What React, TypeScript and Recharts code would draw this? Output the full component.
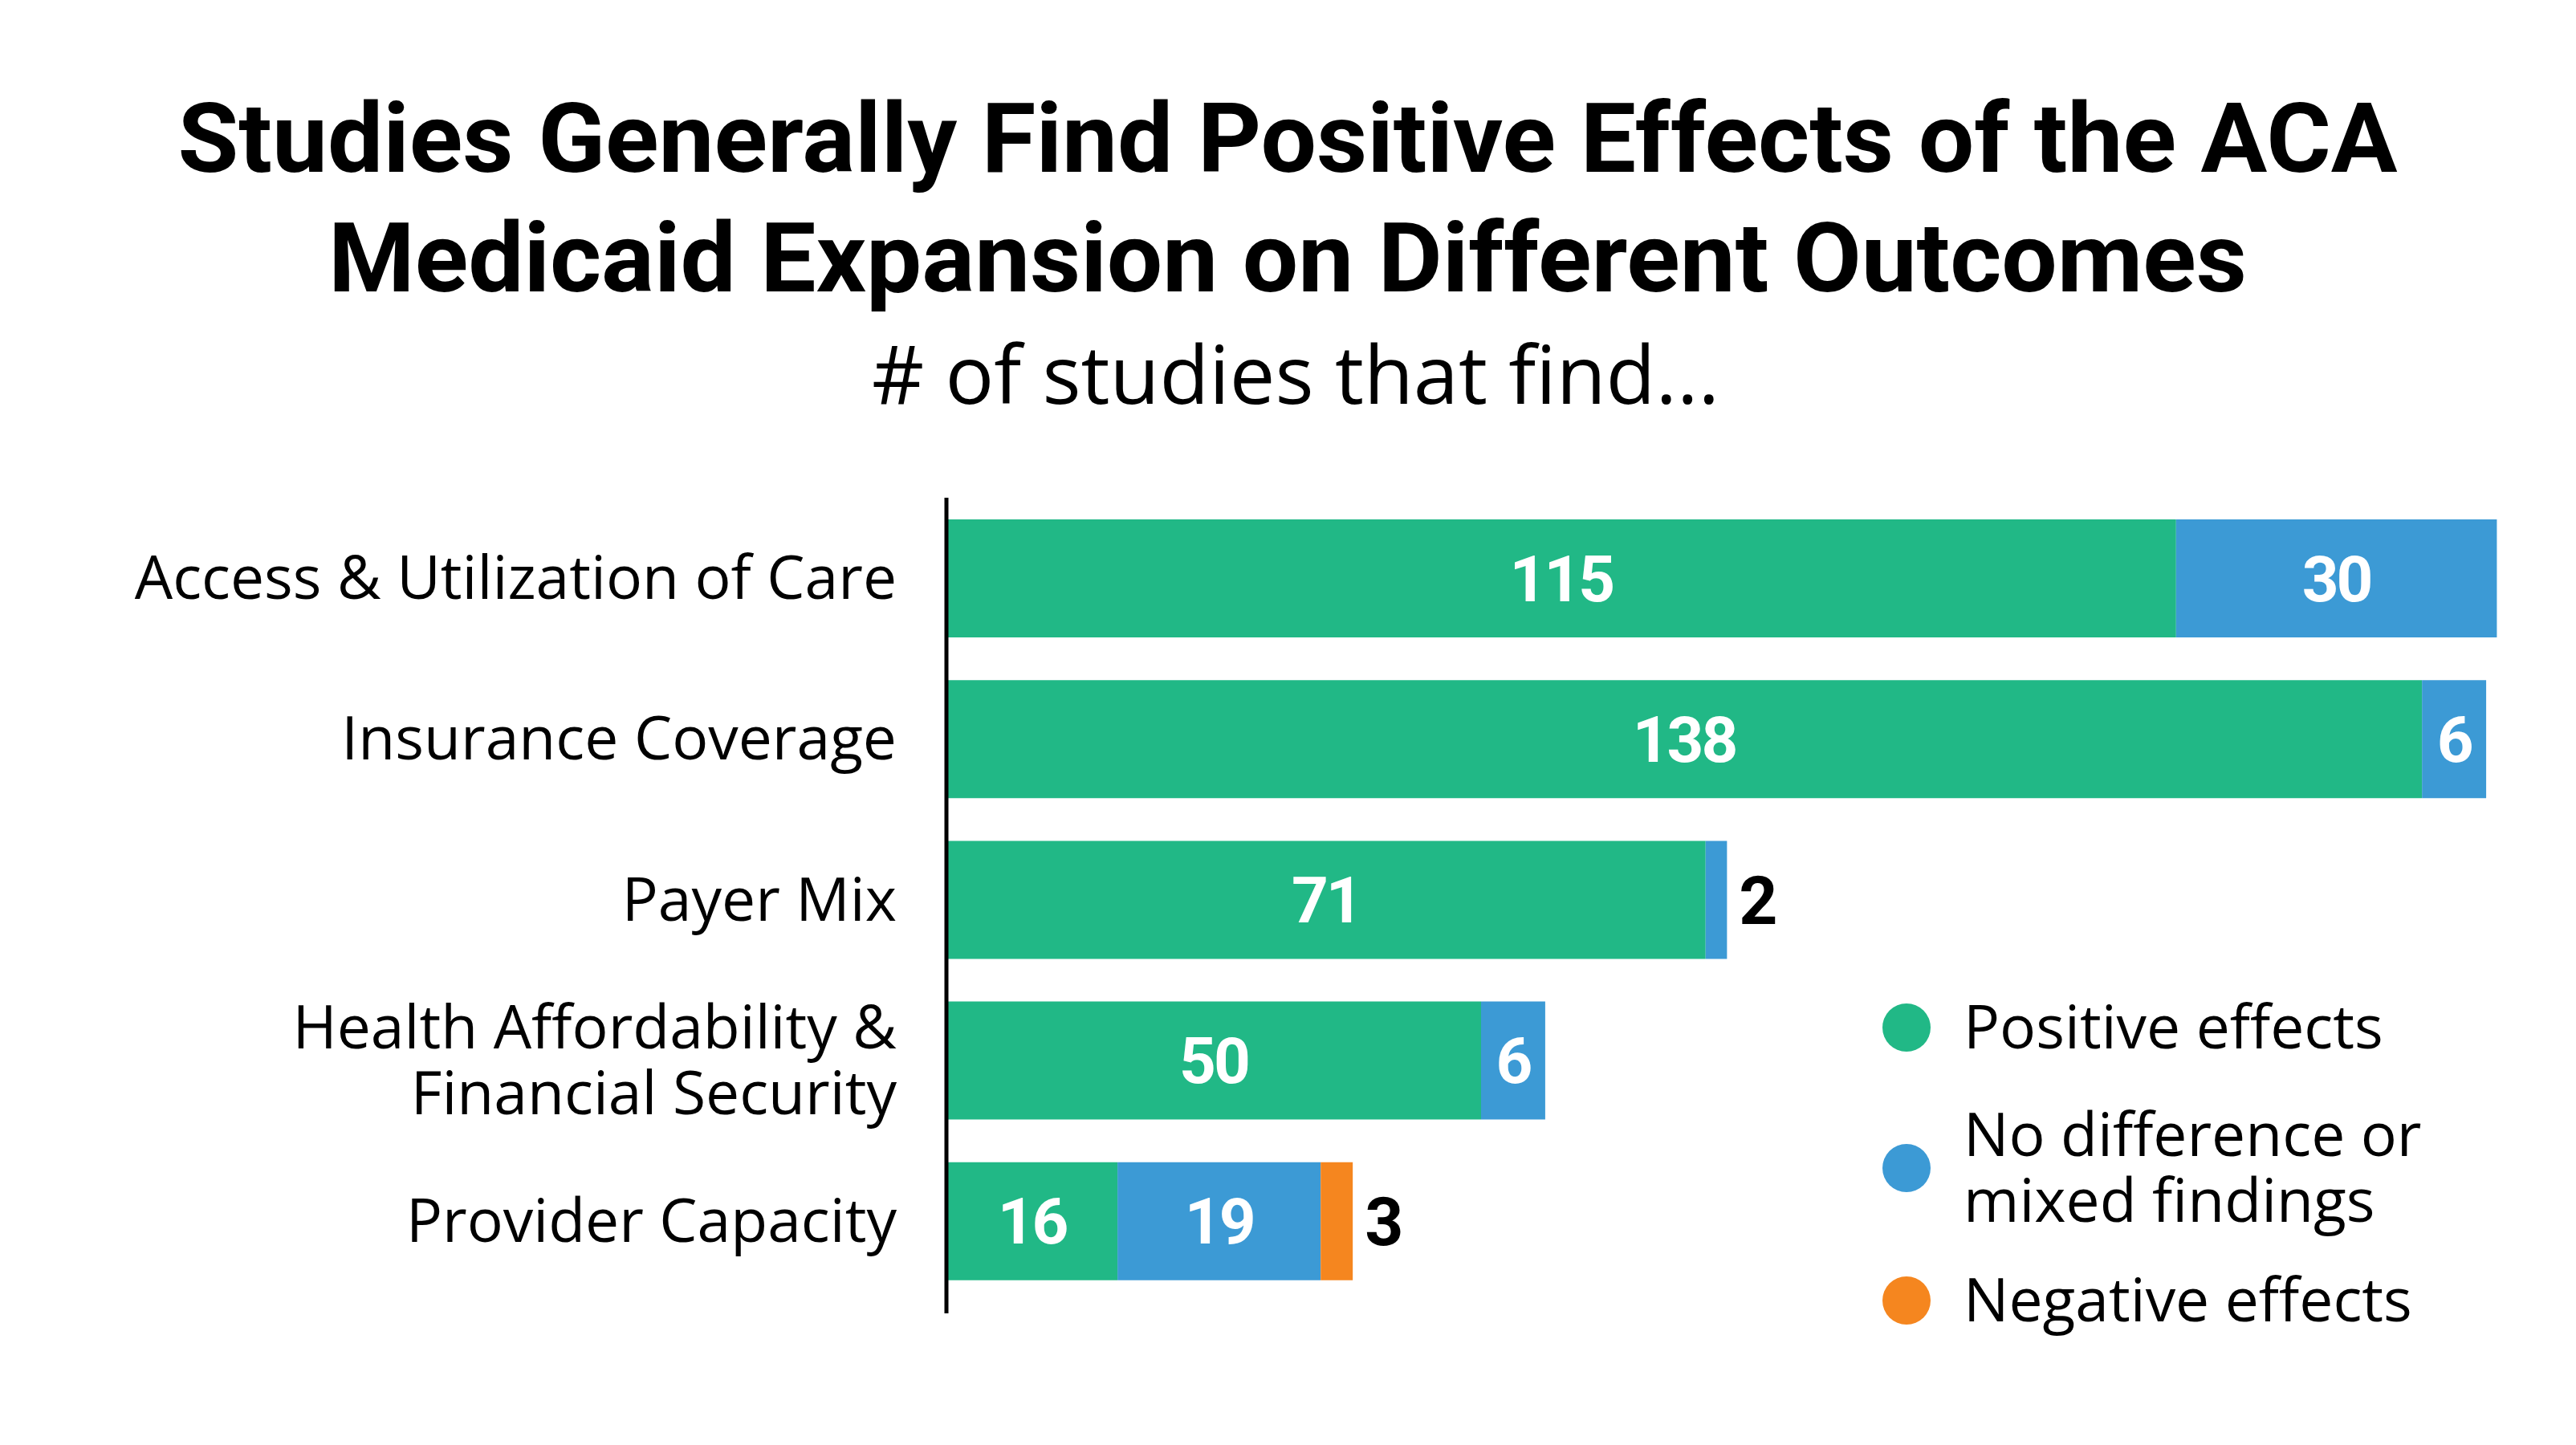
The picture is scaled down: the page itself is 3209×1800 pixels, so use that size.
import React from 'react';
import { Bar, BarChart, LabelList, XAxis, YAxis } from 'recharts';

const categories = [
  'Access & Utilization of Care',
  'Insurance Coverage',
  'Payer Mix',
  'Health Affordability &\nFinancial Security',
  'Provider Capacity',
];
const positive = [115, 138, 71, 50, 16];
const mixed = [30, 6, 2, 6, 19];
const negative = [0, 0, 0, 0, 3];

const seriesNames = ['Positive effects', 'No difference or\nmixed findings', 'Negative effects'];
const colors = ['#21B886', '#3C9AD5', '#F5861F'];

const data = categories.map((c, i) => ({
  category: c,
  positive: positive[i],
  mixed: mixed[i],
  negative: negative[i],
}));

if (typeof document !== 'undefined') document.body.style.margin = '0';

const SANS = '"Open Sans", "Noto Sans", sans-serif';
const BOLD = 'Roboto, "Noto Sans", sans-serif';

function CategoryTick(props: any) {
  const { x, y, payload } = props;
  const lines = String(payload.value).split('\n');
  const lh = 82;
  const start = -((lines.length - 1) * lh) / 2;
  return (
    <g>
      {lines.map((l, i) => (
        <text
          key={i}
          x={x}
          y={y + start + i * lh + 26}
          textAnchor="end"
          fontFamily={SANS}
          fontSize={75}
          fill="#000"
        >
          {l}
        </text>
      ))}
    </g>
  );
}

function ValueLabel(props: any) {
  const { x, y, width, height, value } = props;
  if (!value) return null;
  const cy = y + height / 2;
  if (width < 60) {
    return (
      <text x={x + width + 15} y={cy + 30} textAnchor="start" fontFamily={BOLD} fontWeight={700} fontSize={84} fill="#000">
        {value}
      </text>
    );
  }
  return (
    <text x={x + width / 2} y={cy + 28} textAnchor="middle" fontFamily={BOLD} fontWeight={700} fontSize={80} letterSpacing={-3} fill="#fff">
      {value}
    </text>
  );
}

function LegendBox() {
  const rowY = [1280, 1455, 1620];
  return (
    <svg width={3209} height={1800} style={{ position: 'absolute', left: 0, top: 0, pointerEvents: 'none' }}>
      {seriesNames.map((name, i) => {
        const lines = name.split('\n');
        const cy = rowY[i];
        const start = -((lines.length - 1) * 82) / 2;
        return (
          <g key={i}>
            <circle cx={2375} cy={cy} r={30} fill={colors[i]} />
            {lines.map((l, j) => (
              <text key={j} x={2446} y={cy + start + j * 82 + 26} fontFamily={SANS} fontSize={75} fill="#000">
                {l}
              </text>
            ))}
          </g>
        );
      })}
    </svg>
  );
}

export default function App() {
  return (
    <div style={{ position: 'relative', width: 3209, height: 1800, background: '#fff' }}>
      <svg width={3209} height={600} style={{ position: 'absolute', left: 0, top: 0 }}>
        <text x={1604} y={214} textAnchor="middle" fontFamily={BOLD} fontWeight={700} fontSize={120} textLength={2765} lengthAdjust="spacingAndGlyphs" fill="#000">
          Studies Generally Find Positive Effects of the ACA
        </text>
        <text x={1604} y={363} textAnchor="middle" fontFamily={BOLD} fontWeight={700} fontSize={120} textLength={2390} lengthAdjust="spacingAndGlyphs" fill="#000">
          Medicaid Expansion on Different Outcomes
        </text>
        <text x={1614} y={503} textAnchor="middle" fontFamily={SANS} fontSize={101} fill="#000">
          # of studies that find...
        </text>
      </svg>
      <div style={{ position: 'absolute', left: 0, top: 0 }}>
        <BarChart
          width={3209}
          height={1800}
          data={data}
          layout="vertical"
          barSize={147}
          margin={{ top: 620, bottom: 164, left: 79, right: 32 }}
        >
          <XAxis type="number" domain={[0, 150]} hide />
          <YAxis
            type="category"
            dataKey="category"
            width={1100}
            padding={{ top: 0, bottom: 15 }}
            axisLine={{ stroke: '#000', strokeWidth: 5 }}
            tickLine={false}
            tickSize={0}
            tickMargin={62}
            tick={<CategoryTick />}
            interval={0}
          />
          <Bar dataKey="positive" name={seriesNames[0]} stackId="a" fill={colors[0]} isAnimationActive={false}>
            <LabelList dataKey="positive" content={<ValueLabel />} />
          </Bar>
          <Bar dataKey="mixed" name={seriesNames[1]} stackId="a" fill={colors[1]} isAnimationActive={false}>
            <LabelList dataKey="mixed" content={<ValueLabel />} />
          </Bar>
          <Bar dataKey="negative" name={seriesNames[2]} stackId="a" fill={colors[2]} isAnimationActive={false}>
            <LabelList dataKey="negative" content={<ValueLabel />} />
          </Bar>
        </BarChart>
      </div>
      <LegendBox />
    </div>
  );
}
